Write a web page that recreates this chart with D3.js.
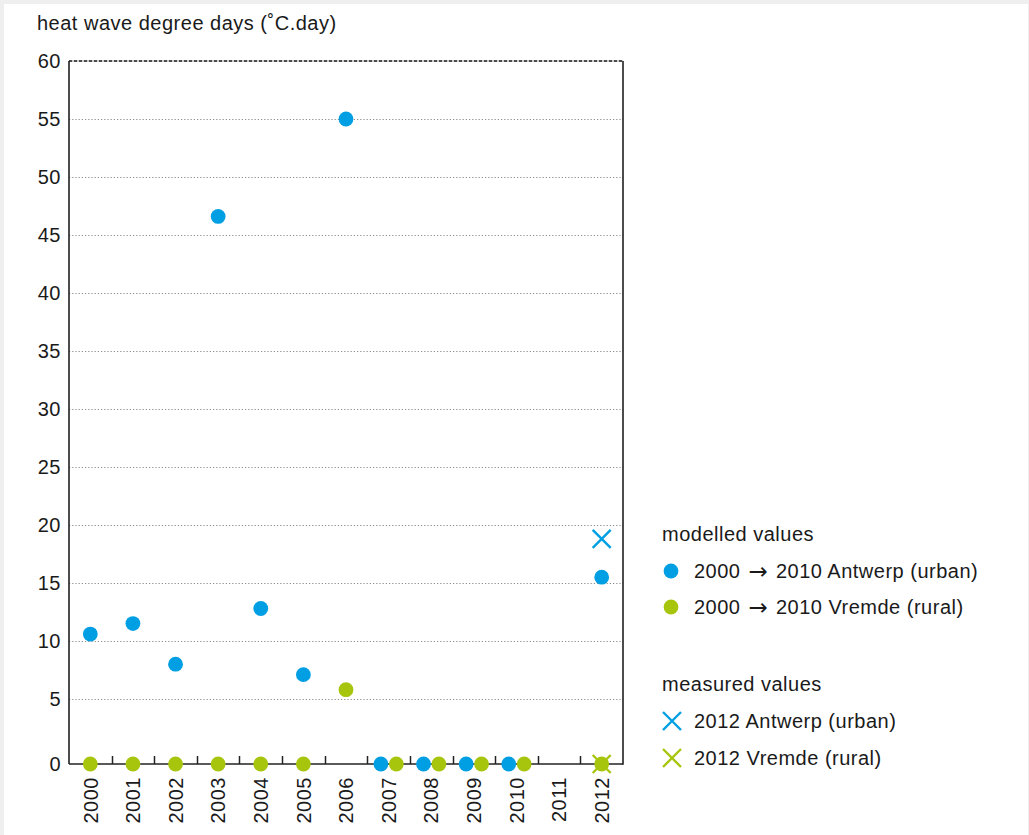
<!DOCTYPE html>
<html>
<head>
<meta charset="utf-8">
<script src="https://cdn.jsdelivr.net/npm/d3@7"></script>
<style>
  html, body { margin: 0; padding: 0; background: #efefef; }
  svg { display: block; }
  text { font-family: "Liberation Sans", Arial, Helvetica, sans-serif; fill: #1a1a1a; letter-spacing: 0.5px; }
  .arrow { font-family: "DejaVu Sans", sans-serif; letter-spacing: 0; font-size: 23px; }
</style>
</head>
<body>
<script>
// Heat wave degree days per year, Antwerp (urban) vs Vremde (rural)
const years = ["2000","2001","2002","2003","2004","2005","2006","2007","2008","2009","2010","2011","2012"];
const antwerpModelled = [10.6, 11.5, 8.0, 46.6, 12.8, 7.1, 55.0, 0, 0, 0, 0, null, 15.5];
const vremdeModelled  = [0, 0, 0, 0, 0, 0, 5.8, 0, 0, 0, 0, null, 0];
const measuredYears   = ["2012"];
const antwerpMeasured = [18.8];
const vremdeMeasured  = [0];
const yTicks = [0, 5, 10, 15, 20, 25, 30, 35, 40, 45, 50, 55, 60];

const legendModelled = [["2000 ", "\u2192", " 2010 Antwerp (urban)"], ["2000 ", "\u2192", " 2010 Vremde (rural)"]];
const legendMeasured = ["2012 Antwerp (urban)", "2012 Vremde (rural)"];

const BLUE = "#009fe3";
const GREEN = "#a8c50d";
const FS = 20;

const W = 1029, H = 835;
const svg = d3.select("body").append("svg").attr("width", W).attr("height", H);

// white panel inside a light grey frame
svg.append("rect").attr("x", 4).attr("y", 4).attr("width", W - 5).attr("height", H - 4).attr("fill", "#fff");

const plot = { left: 69, right: 623, top: 61, bottom: 764 };

const x = d3.scaleBand().domain(years).range([plot.left, plot.right]);
// the zero baseline sits a little below the regular 5-unit spacing
const y = d3.scaleLinear().domain([0, 5, 60]).range([plot.bottom, 699, plot.top]);

// title
svg.append("text").attr("x", 37).attr("y", 30).attr("font-size", FS)
  .text("heat wave degree days (\u02DAC.day)");

// dotted gridlines
svg.append("g").selectAll("line")
  .data(yTicks.filter(d => d > 0 && d < 60))
  .join("line")
  .attr("x1", plot.left).attr("x2", plot.right)
  .attr("y1", d => y(d) + 0.5).attr("y2", d => y(d) + 0.5)
  .attr("stroke", "#8a8a8a").attr("stroke-width", 1.2).attr("stroke-dasharray", "1.2,2");

// top edge: grey rule with dark dashes
svg.append("line").attr("x1", plot.left).attr("x2", plot.right)
  .attr("y1", y(60)).attr("y2", y(60)).attr("stroke", "#999").attr("stroke-width", 1.2);
svg.append("line").attr("x1", plot.left).attr("x2", plot.right)
  .attr("y1", y(60)).attr("y2", y(60)).attr("stroke", "#222").attr("stroke-width", 1.4)
  .attr("stroke-dasharray", "3,2");

// left and right frame
svg.append("line").attr("x1", plot.left).attr("x2", plot.left)
  .attr("y1", plot.top).attr("y2", plot.bottom).attr("stroke", "#111").attr("stroke-width", 1.5);
svg.append("line").attr("x1", plot.right).attr("x2", plot.right)
  .attr("y1", plot.top).attr("y2", plot.bottom + 0.75).attr("stroke", "#111").attr("stroke-width", 1.5);

// y tick labels
svg.append("g").selectAll("text").data(yTicks).join("text")
  .attr("x", 61).attr("y", d => y(d)).attr("dy", "0.36em")
  .attr("text-anchor", "end").attr("font-size", FS)
  .text(d => d);

// baseline and inward ticks at band boundaries
svg.append("line").attr("x1", plot.left).attr("x2", plot.right)
  .attr("y1", plot.bottom).attr("y2", plot.bottom).attr("stroke", "#222").attr("stroke-width", 1.5);
svg.append("g").selectAll("line").data(years.slice(1)).join("line")
  .attr("x1", d => Math.round(x(d)) + 0.5).attr("x2", d => Math.round(x(d)) + 0.5)
  .attr("y1", plot.bottom).attr("y2", plot.bottom - 8)
  .attr("stroke", "#222").attr("stroke-width", 1.5);

// x labels, rotated
svg.append("g").selectAll("text").data(years).join("text")
  .attr("transform", d => `translate(${x(d) + x.bandwidth() / 2},777) rotate(-90)`)
  .attr("text-anchor", "end").attr("dy", "0.36em").attr("font-size", FS)
  .text(d => d);

// modelled points: when both series coincide they are nudged apart
const shift = 7.7;
const rows = years.map((yr, i) => ({ yr, a: antwerpModelled[i], v: vremdeModelled[i] }));
const cx = (r, side) => x(r.yr) + x.bandwidth() / 2 + (r.a === r.v ? side * shift : 0);

svg.append("g").selectAll("circle").data(rows.filter(r => r.a !== null)).join("circle")
  .attr("cx", r => cx(r, -1)).attr("cy", r => y(r.a)).attr("r", 7.4).attr("fill", BLUE);
svg.append("g").selectAll("circle").data(rows.filter(r => r.v !== null)).join("circle")
  .attr("cx", r => cx(r, 1)).attr("cy", r => y(r.v)).attr("r", 7.4).attr("fill", GREEN);

// measured values as crosses
function cross(g, px, py, color, s) {
  g.append("path")
    .attr("d", `M${px - s},${py - s}L${px + s},${py + s}M${px - s},${py + s}L${px + s},${py - s}`)
    .attr("stroke", color).attr("stroke-width", 2.4).attr("fill", "none");
}
const marks = svg.append("g");
measuredYears.forEach((yr, i) => {
  const px = x(yr) + x.bandwidth() / 2;
  cross(marks, px, y(antwerpMeasured[i]), BLUE, 9);
  cross(marks, px, y(vremdeMeasured[i]), GREEN, 9);
});

// legend
const lg = svg.append("g");
lg.append("text").attr("x", 662).attr("y", 534).attr("dy", "0.36em").attr("font-size", FS).text("modelled values");
[BLUE, GREEN].forEach((c, i) => {
  const ly = 571 + i * 36;
  lg.append("circle").attr("cx", 671).attr("cy", ly).attr("r", 7.4).attr("fill", c);
  const t = lg.append("text").attr("x", 694).attr("y", ly).attr("dy", "0.36em").attr("font-size", FS);
  t.append("tspan").text(legendModelled[i][0]);
  t.append("tspan").attr("class", "arrow").attr("dx", 2).attr("dy", 1).text(legendModelled[i][1]);
  t.append("tspan").attr("dx", 2).attr("dy", -1).text(legendModelled[i][2]);
});
lg.append("text").attr("x", 662).attr("y", 684).attr("dy", "0.36em").attr("font-size", FS).text("measured values");
[BLUE, GREEN].forEach((c, i) => {
  const ly = 721 + i * 37;
  cross(lg, 672, ly, c, 9);
  lg.append("text").attr("x", 694).attr("y", ly).attr("dy", "0.36em").attr("font-size", FS).text(legendMeasured[i]);
});
</script>
</body>
</html>
